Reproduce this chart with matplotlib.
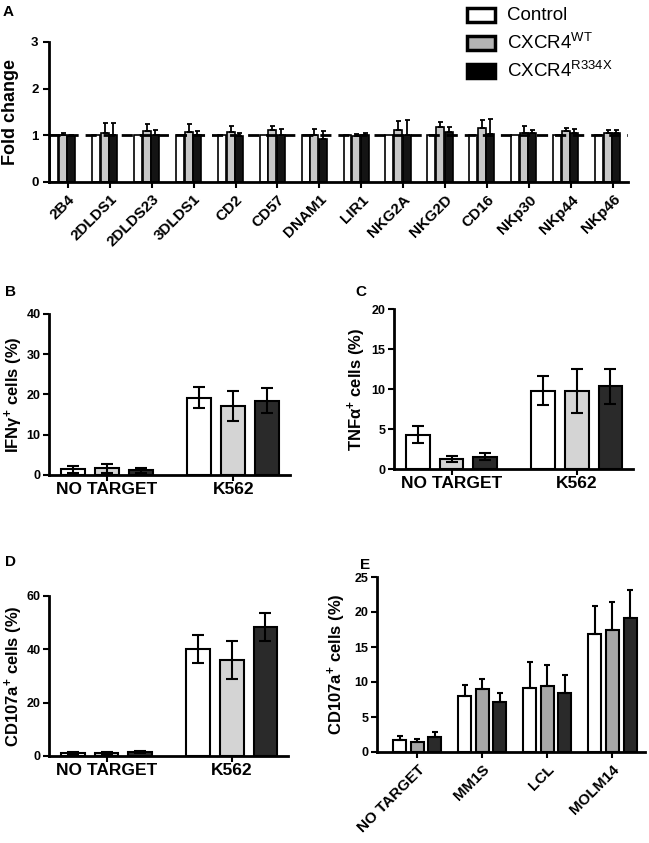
import numpy as np
import matplotlib
matplotlib.use("Agg")
import matplotlib.pyplot as plt
from matplotlib.patches import Rectangle

plt.rcParams['font.family'] = ['Liberation Sans', 'DejaVu Sans']
plt.rcParams['mathtext.fontset'] = 'custom'
plt.rcParams['mathtext.rm'] = 'Liberation Sans'
plt.rcParams['axes.linewidth'] = 2

# panel A: receptor fold change
receptors = ["2B4", "2DLDS1", "2DLDS23", "3DLDS1", "CD2", "CD57", "DNAM1",
             "LIR1", "NKG2A", "NKG2D", "CD16", "NKp30", "NKp44", "NKp46"]
a_control = [1.0] * 14
a_wt = [1.01, 1.05, 1.10, 1.07, 1.07, 1.12, 1.00, 0.99, 1.12, 1.17, 1.16, 1.06, 1.10, 1.05]
a_wt_err = [0.03, 0.22, 0.14, 0.17, 0.14, 0.07, 0.13, 0.03, 0.18, 0.11, 0.17, 0.14, 0.06, 0.07]
a_mut = [0.98, 1.01, 1.00, 1.00, 0.98, 1.00, 0.93, 1.00, 1.00, 1.07, 1.02, 1.04, 1.04, 1.05]
a_mut_err = [0.03, 0.26, 0.12, 0.10, 0.08, 0.14, 0.17, 0.05, 0.33, 0.11, 0.33, 0.08, 0.09, 0.07]

# panels B-D: NO TARGET vs K562
targets = ["NO TARGET", "K562"]
b_ctrl = [1.4, 19.2]; b_ctrl_err = [0.9, 2.6]
b_wt = [1.65, 17.1]; b_wt_err = [1.15, 3.8]
b_mut = [1.2, 18.5]; b_mut_err = [0.6, 3.1]

c_ctrl = [4.3, 9.8]; c_ctrl_err = [1.1, 1.8]
c_wt = [1.25, 9.8]; c_wt_err = [0.33, 2.75]
c_mut = [1.55, 10.35]; c_mut_err = [0.47, 2.2]

d_ctrl = [1.1, 40.1]; d_ctrl_err = [0.4, 5.2]
d_wt = [1.2, 36.0]; d_wt_err = [0.4, 7.0]
d_mut = [1.5, 48.5]; d_mut_err = [0.5, 5.3]

# panel E: CD107a against several targets
e_targets = ["NO TARGET", "MM1S", "LCL", "MOLM14"]
e_ctrl = [1.7, 8.05, 9.2, 16.8]; e_ctrl_err = [0.6, 1.55, 3.6, 4.0]
e_wt = [1.5, 9.0, 9.4, 17.5]; e_wt_err = [0.4, 1.5, 3.0, 4.0]
e_mut = [2.1, 7.2, 8.4, 19.1]; e_mut_err = [0.7, 1.3, 2.6, 4.1]

W, H = 649, 843
fig = plt.figure(figsize=(W / 100, H / 100), dpi=100)


def px_axes(l, t, r, b):
    return fig.add_axes([l / W, 1 - b / H, (r - l) / W, (b - t) / H])


def style(ax):
    for s in ["top", "right"]:
        ax.spines[s].set_visible(False)
    ax.tick_params(axis="both", direction="out", width=1.5, length=4)
    for lab in ax.get_yticklabels():
        lab.set_fontweight("bold")


def put_ylabel(ax, text, size, xc):
    ax.set_ylabel(text, fontsize=size, fontweight="bold")
    ax.yaxis.label.set_verticalalignment("center")
    ax.yaxis.set_label_coords(xc, 0.5)


def grouped(ax, series, errs, colors, offsets, width, capsize, lw, up_only=False, elw=1.5):
    x = np.arange(len(series[0]))
    for vals, err, col, off in zip(series, errs, colors, offsets):
        ax.bar(x + off, vals, width, color=col, edgecolor="black", linewidth=lw, zorder=2)
        if err is None:
            continue
        err = np.array(err)
        yerr = [np.zeros_like(err), err] if up_only else err
        ax.errorbar(x + off, vals, yerr=yerr, fmt="none", ecolor="black",
                    elinewidth=elw, capsize=capsize, capthick=elw, zorder=3)
    return x


# ---- A ----
axA = px_axes(49, 42, 628, 182)
x = grouped(axA, [a_control, a_wt, a_mut], [None, a_wt_err, a_mut_err],
            ["white", "#c8c8c8", "#141414"], [-0.33, -0.12, 0.08], 0.19,
            1.8, 1.2, up_only=True, elw=1.3)
axA.axhline(1, color="black", lw=2, ls=(0, (4, 2.5)), zorder=4)
axA.set_xlim(-0.45, 13.36)
axA.set_ylim(0, 3)
axA.set_yticks([0, 1, 2, 3])
axA.set_xticks(x)
axA.set_xticklabels(receptors, rotation=45, ha="right", rotation_mode="anchor",
                    fontsize=11, fontweight="bold")
put_ylabel(axA, "Fold change", 13, -0.066)
style(axA)
axA.tick_params(axis="y", labelsize=9.5)

# legend drawn by hand
legend_labels = ["Control", r"CXCR4$^{\mathregular{WT}}$", r"CXCR4$^{\mathregular{R334X}}$"]
legend_colors = ["white", "#b4b4b4", "black"]
for i, (lab, col) in enumerate(zip(legend_labels, legend_colors)):
    yc = 15 + i * 28
    fig.patches.append(Rectangle((467 / W, 1 - (yc + 7) / H), 28 / W, 14 / H,
                                 transform=fig.transFigure, facecolor=col,
                                 edgecolor="black", linewidth=2.5))
    fig.text(507 / W, 1 - yc / H, lab, fontsize=13.5, va="center", ha="left")

# ---- B, C, D ----
three = ["white", "#d4d4d4", "#2a2a2a"]
offs = [-0.27, 0.0, 0.27]


def two_group(ax, ctrl, ctrl_e, wt, wt_e, mut, mut_e, ymax, step, ylabel, xc):
    x = grouped(ax, [ctrl, wt, mut], [ctrl_e, wt_e, mut_e], three, offs, 0.19,
                4.5, 1.5)
    ax.set_xlim(-0.46, 1.45)
    ax.set_ylim(0, ymax)
    ax.set_yticks(np.arange(0, ymax + 1, step))
    ax.set_xticks(x)
    ax.set_xticklabels(targets, fontsize=12.5, fontweight="bold")
    put_ylabel(ax, ylabel, 12, xc)
    style(ax)
    ax.tick_params(axis="y", labelsize=9, pad=2)
    ax.tick_params(axis="x", pad=1)


axB = px_axes(49, 314, 290, 475)
two_group(axB, b_ctrl, b_ctrl_err, b_wt, b_wt_err, b_mut, b_mut_err, 40, 10,
          r"IFN$\mathregular{\gamma^{+}}$ cells (%)", -0.145)

axC = px_axes(394, 309, 633, 469)
two_group(axC, c_ctrl, c_ctrl_err, c_wt, c_wt_err, c_mut, c_mut_err, 20, 5,
          r"TNF$\mathregular{\alpha^{+}}$ cells (%)", -0.155)

axD = px_axes(49, 596, 288, 756)
two_group(axD, d_ctrl, d_ctrl_err, d_wt, d_wt_err, d_mut, d_mut_err, 60, 20,
          r"CD107a$\mathregular{^{+}}$ cells (%)", -0.146)

# ---- E ----
axE = px_axes(377, 577, 645, 752)
x = grouped(axE, [e_ctrl, e_wt, e_mut], [e_ctrl_err, e_wt_err, e_mut_err],
            ["white", "#a6a6a6", "#2a2a2a"], [-0.27, 0.0, 0.27], 0.2,
            2.5, 1.5, up_only=True)
axE.set_xlim(-0.62, 3.5)
axE.set_ylim(0, 25)
axE.set_yticks([0, 5, 10, 15, 20, 25])
axE.set_xticks(x)
axE.set_xticklabels(e_targets, rotation=45, ha="right", rotation_mode="anchor",
                    fontsize=11, fontweight="bold")
put_ylabel(axE, r"CD107a$\mathregular{^{+}}$ cells (%)", 12, -0.149)
style(axE)
axE.tick_params(axis="y", labelsize=9, pad=2)

# panel letters
for lab, (px, py) in {"A": (3, 12), "B": (5, 292), "C": (355, 292),
                      "D": (5, 562), "E": (360, 565)}.items():
    fig.text(px / W, 1 - py / H, lab, fontsize=11, fontweight="bold", va="center")

fig.savefig("out.png", dpi=100)
